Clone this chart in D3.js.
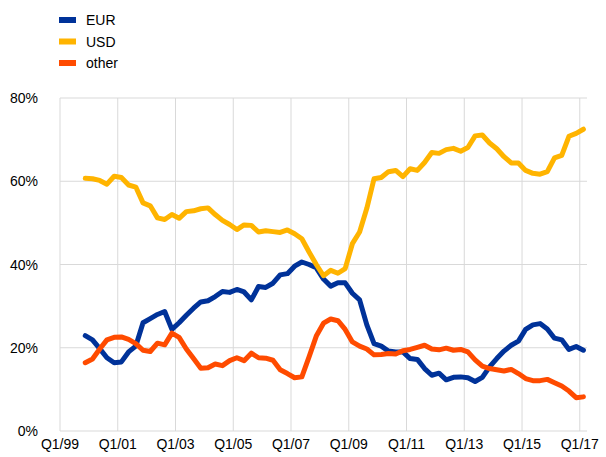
<!DOCTYPE html>
<html>
<head>
<meta charset="utf-8">
<script src="https://cdn.jsdelivr.net/npm/d3@7"></script>
<style>
  body { margin: 0; background: #fff; }
  text { font-family: "Liberation Sans", Arial, sans-serif; fill: #000; }
</style>
</head>
<body>
<svg id="viz" width="606" height="457"></svg>
<script>
// quarters Q1/99 .. Q1/17 on the axis, data runs Q4/99 .. Q1/17
const quarters = []
for (let y = 1999; y <= 2017; y++) {
    for (let q = 1; q <= 4; q++) {
        if (y == 2017 && q > 1) break
        quarters.push(`Q${q}/${String(y).slice(2)}`)
    }
}
const tickLabels = ["Q1/99","Q1/01","Q1/03","Q1/05","Q1/07","Q1/09","Q1/11","Q1/13","Q1/15","Q1/17"]
const yTicks = [0, 20, 40, 60, 80]
const dataStart = "Q4/99"

const eur = [22.9,21.9,19.8,17.6,16.4,16.6,19.0,20.4,26.0,27.0,28.0,28.7,24.4,26.0,27.8,29.5,31.0,
    31.3,32.3,33.5,33.3,34.0,33.4,31.5,34.7,34.5,35.5,37.5,37.8,39.6,40.6,40.0,39.2,36.5,34.8,35.6,
    35.6,33.1,31.5,25.5,21.0,20.4,19.2,19.0,19.0,17.4,17.2,15.0,13.4,13.9,12.3,12.9,13.0,12.8,11.9,
    12.9,15.4,17.4,19.2,20.6,21.6,24.4,25.5,25.8,24.5,22.3,21.9,19.6,20.3,19.4]
const usd = [60.7,60.6,60.2,59.3,61.2,60.9,59.1,58.6,54.8,54.1,51.2,50.8,52.0,51.1,52.7,52.9,53.4,
    53.6,52.0,50.6,49.6,48.4,49.5,49.4,47.8,48.1,47.9,47.7,48.3,47.4,46.2,43.0,40.0,37.3,38.6,37.9,
    39.0,45.0,47.8,53.5,60.6,60.9,62.3,62.6,61.1,63.0,62.6,64.5,66.9,66.7,67.6,67.9,67.2,68.1,70.9,
    71.1,69.2,67.8,65.9,64.4,64.4,62.6,61.9,61.7,62.3,65.6,66.2,70.8,71.5,72.5]
const other = [16.4,17.3,19.7,21.9,22.5,22.6,22.0,21.0,19.4,19.1,21.1,20.7,23.5,22.5,19.7,17.4,15.1,
    15.2,16.1,15.7,16.9,17.6,16.9,18.7,17.6,17.5,17.0,14.7,13.8,12.8,13.0,17.8,22.8,25.9,26.9,26.5,
    24.4,21.4,20.4,19.7,18.3,18.4,18.6,18.5,19.3,19.6,20.1,20.6,19.7,19.5,19.9,19.4,19.6,19.0,17.1,
    15.6,15.0,14.7,14.4,14.8,13.8,12.6,12.1,12.1,12.4,11.6,10.8,9.6,8.0,8.2]

const seriesNames = ["EUR", "USD", "other"]
const colors = ["#003299", "#FFB400", "#FF4B00"]

var svg = d3.select("svg#viz")
const plot = { left: 60, right: 587, top: 98, bottom: 431 }

const x = d3.scaleBand().domain(quarters).range([plot.left, plot.right]).padding(0)
const y = d3.scaleLinear().domain([0, 80]).range([plot.bottom, plot.top])

const grid = svg.append('g')
grid.selectAll('line.h')
    .data(yTicks)
    .join('line')
    .attr('class', 'h')
    .attr('x1', plot.left).attr('x2', plot.right)
    .attr('y1', d => y(d)).attr('y2', d => y(d))
    .attr('stroke', '#d9d9d9')
    .attr('stroke-width', 1)

grid.selectAll('line.v')
    .data(tickLabels)
    .join('line')
    .attr('class', 'v')
    .attr('x1', d => x(d)).attr('x2', d => x(d))
    .attr('y1', plot.top).attr('y2', plot.bottom)
    .attr('stroke', '#d9d9d9')
    .attr('stroke-width', 1)

svg.append('g').selectAll('text')
    .data(yTicks)
    .join('text')
    .attr('x', 38)
    .attr('y', d => y(d) + 5)
    .attr('text-anchor', 'end')
    .attr('font-size', 14)
    .text(d => d + '%')

svg.append('g').selectAll('text')
    .data(tickLabels)
    .join('text')
    .attr('x', d => x(d))
    .attr('y', 449)
    .attr('text-anchor', 'middle')
    .attr('font-size', 14)
    .text(d => d)

const startIdx = quarters.indexOf(dataStart)
const line = d3.line()
    .x((d, i) => x(quarters[startIdx + i]) + x.bandwidth() / 2)
    .y(d => y(d))

const allSeries = [eur, usd, other]
svg.append('g').selectAll('path')
    .data(allSeries)
    .join('path')
    .attr('d', d => line(d))
    .attr('fill', 'none')
    .attr('stroke', (d, i) => colors[i])
    .attr('stroke-width', 5)
    .attr('stroke-linejoin', 'round')
    .attr('stroke-linecap', 'round')

const legend = svg.append('g').selectAll('g')
    .data(seriesNames)
    .join('g')
    .attr('transform', (d, i) => `translate(59, ${20 + i * 21.5})`)

legend.append('rect')
    .attr('x', 0).attr('y', -3)
    .attr('width', 17).attr('height', 6)
    .attr('fill', (d, i) => colors[i])

legend.append('text')
    .attr('x', 27).attr('y', 5)
    .attr('font-size', 14)
    .text(d => d)
</script>
</body>
</html>
